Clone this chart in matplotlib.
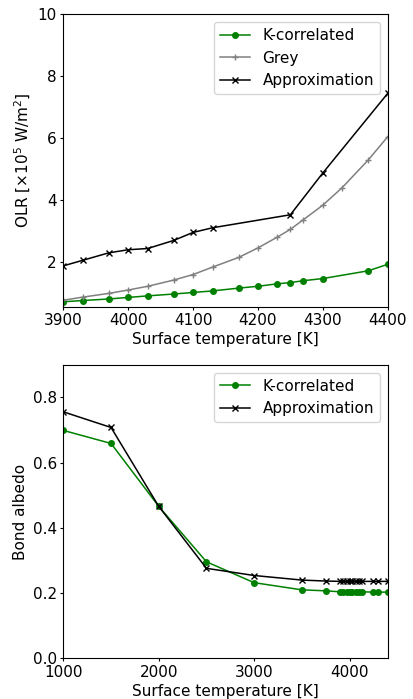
import numpy as np
import matplotlib
matplotlib.use("Agg")
import matplotlib.pyplot as plt

plt.rcParams["font.size"] = 11
plt.rcParams["xtick.major.size"] = 2.2
plt.rcParams["ytick.major.size"] = 2.2
plt.rcParams["xtick.major.pad"] = 2.5
plt.rcParams["ytick.major.pad"] = 2.5
plt.rcParams["axes.labelpad"] = 3

# OLR vs surface temperature (units of 1e5 W/m^2)
t_k = [3900, 3930, 3970, 4000, 4030, 4070, 4100, 4130, 4170, 4200, 4230, 4250, 4270, 4300, 4370, 4400]
olr_k = [0.71, 0.75, 0.80, 0.85, 0.90, 0.96, 1.01, 1.06, 1.15, 1.21, 1.29, 1.33, 1.39, 1.46, 1.71, 1.92]

t_grey = [3900, 3930, 3970, 4000, 4030, 4070, 4100, 4130, 4170, 4200, 4230, 4250, 4270, 4300, 4330, 4370, 4400]
olr_grey = [0.76, 0.86, 0.98, 1.09, 1.21, 1.41, 1.59, 1.83, 2.14, 2.45, 2.80, 3.05, 3.36, 3.83, 4.40, 5.29, 6.04]

t_approx = [3900, 3930, 3970, 4000, 4030, 4070, 4100, 4130, 4250, 4300, 4400]
olr_approx = [1.87, 2.05, 2.29, 2.39, 2.43, 2.69, 2.95, 3.10, 3.52, 4.87, 7.44]

# Bond albedo vs surface temperature
t_alb = [1000, 1500, 2000, 2500, 3000, 3500, 3750, 3900, 3930, 3970, 4000, 4030,
         4070, 4100, 4130, 4250, 4300, 4400]
alb_k = [0.699, 0.659, 0.466, 0.296, 0.232, 0.210, 0.207, 0.204, 0.204, 0.204, 0.204,
         0.204, 0.204, 0.204, 0.204, 0.203, 0.203, 0.203]
alb_approx = [0.756, 0.708, 0.466, 0.276, 0.254, 0.240, 0.237, 0.236, 0.236, 0.236,
              0.236, 0.236, 0.236, 0.236, 0.236, 0.236, 0.236, 0.236]

line_kw = dict(linewidth=1.1, markersize=4)

fig = plt.figure(figsize=(4.14, 6.99), dpi=100)
ax1 = fig.add_axes([0.153, 0.5612, 0.7835, 0.4186])
ax2 = fig.add_axes([0.153, 0.0582, 0.7835, 0.4198])

ax1.plot(t_k, olr_k, color="green", marker="o", label="K-correlated", **line_kw)
ax1.plot(t_grey, olr_grey, color="grey", marker="+", label="Grey", **line_kw)
ax1.plot(t_approx, olr_approx, color="black", marker="x", label="Approximation", **line_kw)
ax1.set_xlim(3900, 4400)
ax1.set_ylim(0.55, 10)
ax1.set_xlabel("Surface temperature [K]")
ax1.set_ylabel(r"OLR [$\times10^5$ W/m$^2$]")
ax1.legend(loc="upper right")

ax2.plot(t_alb, alb_k, color="green", marker="o", label="K-correlated", **line_kw)
ax2.plot(t_alb, alb_approx, color="black", marker="x", label="Approximation", **line_kw)
ax2.set_xlim(1000, 4400)
ax2.set_ylim(0, 0.9)
ax2.set_xticks([1000, 2000, 3000, 4000])
ax2.set_yticks([0.0, 0.2, 0.4, 0.6, 0.8])
ax2.set_xlabel("Surface temperature [K]")
ax2.set_ylabel("Bond albedo")
ax2.legend(loc="upper right")

fig.savefig("out.png", dpi=100)
